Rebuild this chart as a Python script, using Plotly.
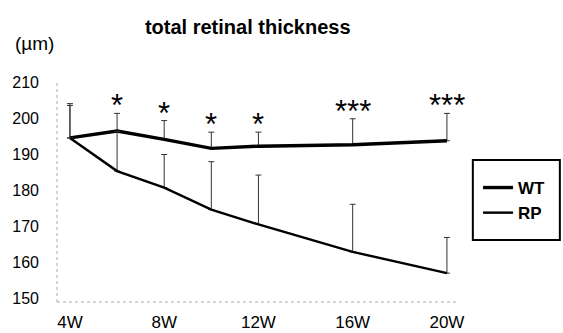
import plotly.graph_objects as go

weeks = [4, 6, 8, 10, 12, 16, 20]
tick_vals = [4, 8, 12, 16, 20]
tick_text = ["4W", "8W", "12W", "16W", "20W"]
wt_mean = [194.5, 196.4, 194.1, 191.6, 192.2, 192.6, 193.7]
wt_sd = [9.5, 4.9, 5.2, 4.5, 3.9, 7.2, 7.6]
rp_mean = [194.5, 185.3, 180.7, 174.6, 170.5, 162.9, 157.0]
rp_sd = [9.0, 11.0, 9.2, 13.3, 13.7, 13.2, 9.9]
sig = ["", "*", "*", "*", "*", "***", "***"]

FONT = "Liberation Sans"

fig = go.Figure()
fig.add_trace(go.Scatter(
    x=weeks, y=wt_mean, mode="lines", name="WT", legendgroup="a",
    line=dict(color="black", width=3.4),
    error_y=dict(type="data", symmetric=False, array=wt_sd,
                 arrayminus=[0] * len(wt_sd), thickness=1, width=3, color="#333"),
))
fig.add_trace(go.Scatter(
    x=weeks, y=rp_mean, mode="lines", name="RP", legendgroup="b",
    line=dict(color="black", width=2.4),
    error_y=dict(type="data", symmetric=False, array=rp_sd,
                 arrayminus=[0] * len(rp_sd), thickness=1, width=3, color="#333"),
))

for w, m, s, t in zip(weeks, wt_mean, wt_sd, sig):
    if t:
        fig.add_annotation(x=w, y=m + s, text=t, showarrow=False,
                           xanchor="center", yanchor="bottom", yshift=-12,
                           font=dict(family=FONT, size=31, color="black"))

fig.add_annotation(xref="paper", yref="paper", x=-0.11, y=1.177, text="(µm)",
                   showarrow=False, xanchor="left", yanchor="middle",
                   font=dict(family=FONT, size=19, color="black"))

# dotted axis lines
fig.add_shape(type="line", xref="paper", yref="paper", x0=0, x1=1, y0=0, y1=0,
              line=dict(color="#aaa", width=1, dash="dot"))
fig.add_shape(type="line", xref="paper", yref="paper", x0=0, x1=0, y0=0, y1=1,
              line=dict(color="#aaa", width=1, dash="dot"))
# legend frame
fig.add_shape(type="rect", xref="paper", yref="paper", x0=1.037, x1=1.254,
              y0=0.282, y1=0.645, line=dict(color="black", width=2))

fig.update_layout(
    width=563, height=333,
    margin=dict(l=57, r=105, t=82, b=31, autoexpand=False),
    paper_bgcolor="white", plot_bgcolor="white",
    title=dict(text="<b>total retinal thickness</b>", x=0.44, xanchor="center",
               y=0.919, yanchor="middle",
               font=dict(family=FONT, size=20, color="black")),
    xaxis=dict(range=[3.45, 20.47], tickvals=tick_vals, ticktext=tick_text,
               showgrid=False, zeroline=False, showline=False, ticks="",
               ticklabelstandoff=8, automargin=False,
               tickfont=dict(family=FONT, size=17, color="black")),
    yaxis=dict(range=[149, 210], dtick=10, showgrid=False, zeroline=False,
               showline=False, ticks="", ticklabelstandoff=17, automargin=False,
               tickfont=dict(family=FONT, size=16, color="black")),
    legend=dict(x=1.05, y=0.6, xanchor="left", yanchor="top",
                traceorder="grouped", tracegroupgap=0, itemwidth=30,
                bgcolor="rgba(0,0,0,0)",
                font=dict(family=FONT, size=17, color="black", weight="bold")),
)

fig.write_html("out.html", config={"displayModeBar": False})

# remove default page margin so the figure sits at the window origin
with open("out.html", "r", encoding="utf-8") as f:
    html = f.read()
html = html.replace("<head>", "<head><style>html,body{margin:0;padding:0;overflow:hidden}</style>", 1)
with open("out.html", "w", encoding="utf-8") as f:
    f.write(html)
